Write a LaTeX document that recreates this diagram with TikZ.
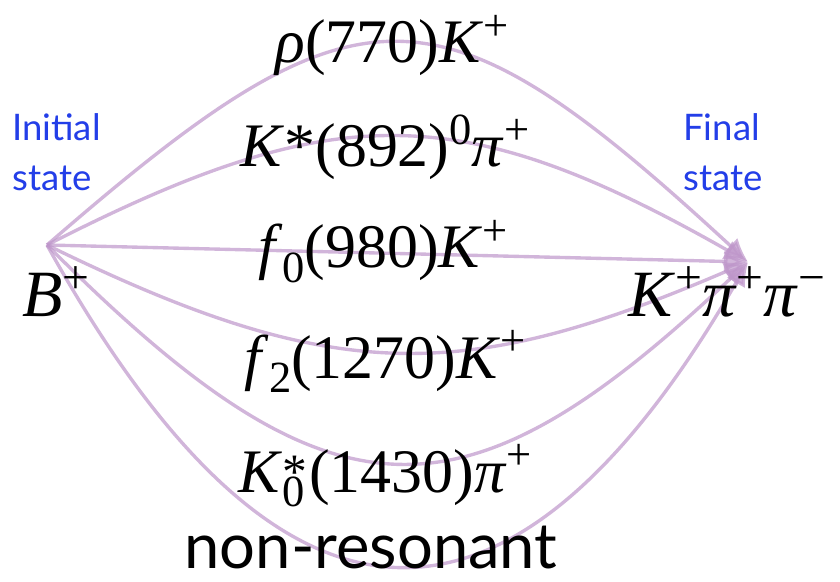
\documentclass[tikz,border=0pt]{standalone}
\usepackage{graphicx}
\usepackage{fontspec}
\setmainfont{Liberation Serif}
\newfontfamily\statefont{Lato}
\usetikzlibrary{arrows.meta}

\definecolor{chanpurple}{RGB}{190,150,202}
\definecolor{stateblue}{RGB}{35,62,232}

\newcommand{\supx}[1]{\raisebox{0.36em}{\scalebox{0.72}{#1}}}
\newcommand{\subx}[1]{\raisebox{-0.24em}{\scalebox{0.72}{#1}}}

\begin{document}
\begin{tikzpicture}[x=0.025cm, y=-0.025cm,
    chan/.style={chanpurple, line width=2.4pt, opacity=0.7,
        -{Latex[length=17pt, width=15pt]}},
    reslabel/.style={anchor=base, inner sep=0pt, font=\fontsize{44}{50}\selectfont},
    endlabel/.style={anchor=base west, inner sep=0pt, font=\fontsize{47}{54}\selectfont},
    statelabel/.style={anchor=north west, inner sep=0pt, align=left, stateblue,
        font=\statefont\fontsize{26}{36}\selectfont}]

\useasboundingbox (0,0) rectangle (840,582);

%% start and end of every decay channel
\coordinate (src) at (47,245);
\coordinate (dst) at (748,262);

%% channels, top to bottom
\draw[chan] (src) .. controls +(313,-272) and +(-313,-289) .. (dst);
\draw[chan] (src) .. controls +(288,-147) and +(-288,-164) .. (dst);
\draw[chan] (src) -- (dst);
\draw[chan] (src) .. controls +(286,140) and +(-286,123) .. (dst);
\draw[chan] (src) .. controls +(286,287) and +(-286,270) .. (dst);
\draw[chan] (src) .. controls +(235,424) and +(-235,407) .. (dst);

%% intermediate resonances
\node[reslabel] (rho) at (392,63) {\textit{ρ}(770)\textit{K}\supx{+}};
\node[reslabel] (kst) at (385,167) {\textit{K}*(892)\supx{0}\textit{π}\supx{+}};
\node[reslabel] (fzero) at (383,268) {\textit{f}\subx{0}(980)\textit{K}\supx{+}};
\node[reslabel] (ftwo) at (385,378) {\textit{f}\subx{2}(1270)\textit{K}\supx{+}};
\node[reslabel] (kzero) at (385,492) {\textit{K}\rlap{\raisebox{0.05em}{\scalebox{0.8}{*}}}\subx{0}\hspace{0.08em}(1430)\textit{π}\supx{+}};
\node[anchor=base, inner sep=0pt, font=\statefont\fontsize{45}{50}\selectfont] (nonres) at (371,568) {non-resonant};

%% initial and final state
\node[endlabel] (bplus) at (22,317) {\textit{B}\supx{+}};
\node[endlabel] (kpipi) at (628,317) {\textit{K}\supx{+}\textit{π}\supx{+}\textit{π}\supx{−}};
\node[statelabel] (initial) at (12,113) {Initial\\state};
\node[statelabel] (final) at (683,113) {Final\\state};

\end{tikzpicture}
\end{document}
